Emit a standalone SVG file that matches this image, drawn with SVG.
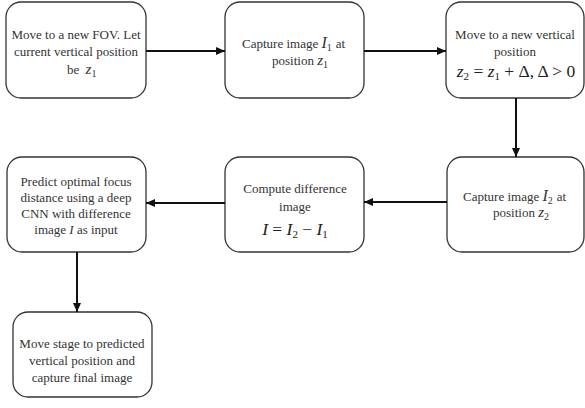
<svg xmlns="http://www.w3.org/2000/svg" width="585" height="408" viewBox="0 0 585 408">
<defs>
<marker id="ah" markerWidth="10" markerHeight="10" refX="9" refY="5" orient="auto" markerUnits="userSpaceOnUse">
<path d="M0,1 L9,5 L0,9 Z" fill="#111"/>
</marker>
<style>
.box{fill:#fff;stroke:#333;stroke-width:1.3}
.t{font-family:"Liberation Serif","Times New Roman","DejaVu Serif",serif;font-size:13px;fill:#333;text-anchor:middle}
.s{text-anchor:start}
.m{font-family:"Liberation Serif","Times New Roman","DejaVu Serif",serif;font-size:17.5px;fill:#222;text-anchor:middle}
.i{font-style:italic}
.c{stroke:#111;stroke-width:2;fill:none;marker-end:url(#ah)}
</style>
</defs>
<rect width="585" height="408" fill="#fff"/>
<g id="n1">
<rect class="box" x="6" y="2" width="140" height="96" rx="15"/>
<text class="t" x="76" y="39">Move to a new FOV. Let</text>
<text class="t" x="76" y="56">current vertical position</text>
<text class="t s" x="67" y="74">be <tspan class="i" font-size="15" dx="3">z</tspan><tspan font-size="10" dy="3">1</tspan></text>
</g>
<g id="n2">
<rect class="box" x="225" y="2" width="139" height="96" rx="15"/>
<text class="t s" x="242" y="48">Capture image <tspan class="i" font-size="16">I</tspan><tspan font-size="10" dy="3">1</tspan><tspan dy="-3" dx="4">at</tspan></text>
<text class="t s" x="272" y="65">position <tspan class="i" font-size="15">z</tspan><tspan font-size="10" dy="3">1</tspan></text>
</g>
<g id="n3">
<rect class="box" x="446" y="2" width="138" height="96" rx="15"/>
<text class="t" x="515" y="39">Move to a new vertical</text>
<text class="t" x="515" y="56">position</text>
<text class="m" x="516" y="77"><tspan class="i">z</tspan><tspan font-size="11" dy="3">2</tspan><tspan dy="-3"> = </tspan><tspan class="i">z</tspan><tspan font-size="11" dy="3">1</tspan><tspan dy="-3"> + Δ, Δ &gt; 0</tspan></text>
</g>
<g id="n4">
<rect class="box" x="447" y="157" width="137" height="95" rx="15"/>
<text class="t s" x="463" y="201">Capture image <tspan class="i" font-size="16">I</tspan><tspan font-size="10" dy="3">2</tspan><tspan dy="-3" dx="4">at</tspan></text>
<text class="t s" x="493" y="217">position <tspan class="i" font-size="15">z</tspan><tspan font-size="10" dy="3">2</tspan></text>
</g>
<g id="n5">
<rect class="box" x="225" y="157" width="139" height="95" rx="15"/>
<text class="t" x="295" y="193">Compute difference</text>
<text class="t" x="295" y="211">image</text>
<text class="m" x="295" y="235"><tspan class="i">I</tspan><tspan> = </tspan><tspan class="i">I</tspan><tspan font-size="11" dy="3">2</tspan><tspan dy="-3"> − </tspan><tspan class="i">I</tspan><tspan font-size="11" dy="3">1</tspan></text>
</g>
<g id="n6">
<rect class="box" x="7" y="157" width="139" height="95" rx="15"/>
<text class="t" x="76" y="186">Predict optimal focus</text>
<text class="t" x="76" y="202">distance using a deep</text>
<text class="t" x="76" y="218">CNN with difference</text>
<text class="t" x="76" y="234">image <tspan class="i">I</tspan> as input</text>
</g>
<g id="n7">
<rect class="box" x="13" y="312" width="139" height="85" rx="15"/>
<text class="t" x="82" y="348">Move stage to predicted</text>
<text class="t" x="82" y="365">vertical position and</text>
<text class="t" x="82" y="382">capture final image</text>
</g>
<g id="connectors">
<path class="c" d="M146,51 L225,51"/>
<path class="c" d="M364,51 L446,51"/>
<path class="c" d="M516,98 L516,157"/>
<path class="c" d="M447,202 L364,202"/>
<path class="c" d="M225,203 L146,203"/>
<path class="c" d="M77,252 L77,312"/>
</g>
</svg>
